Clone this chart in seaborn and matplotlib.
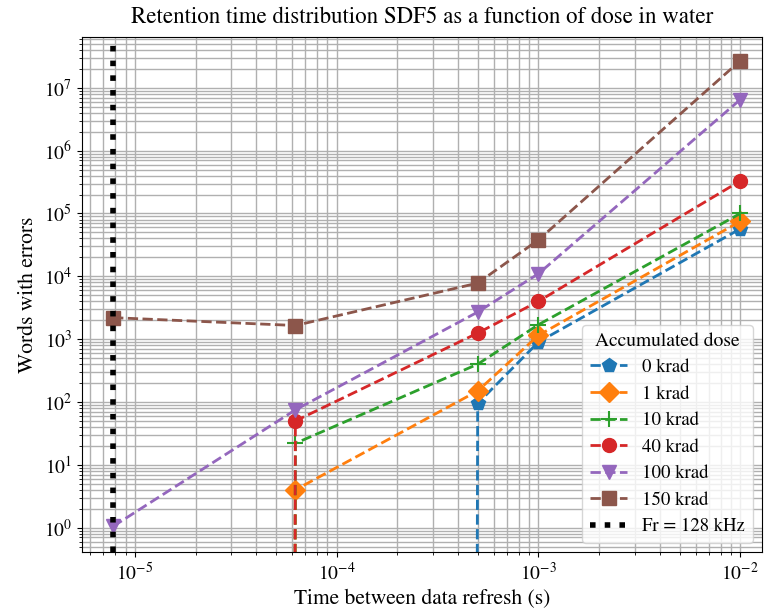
import numpy as np
import pandas as pd
import matplotlib
matplotlib.use("Agg")
import matplotlib.pyplot as plt
import seaborn as sns

# Refresh periods (s): 128 kHz, 16 kHz, 2 kHz, 1 kHz, 100 Hz
refresh_time = [1 / 128000, 1 / 16000, 5e-4, 1e-3, 1e-2]

# Words with errors for each accumulated dose (0 = no errors)
errors_0krad = [0, 0, 95, 900, 57000]
errors_1krad = [0, 4, 150, 1150, 75000]
errors_10krad = [0, 22, 400, 1700, 100000]
errors_40krad = [0, 50, 1250, 4000, 330000]
errors_100krad = [1.05, 75, 2700, 11000, 6.5e6]
errors_150krad = [2200, 1650, 7800, 38000, 2.7e7]

dose_labels = ["0 krad", "1 krad", "10 krad", "40 krad", "100 krad", "150 krad"]
series = [errors_0krad, errors_1krad, errors_10krad,
          errors_40krad, errors_100krad, errors_150krad]
markers = ["p", "D", "+", "o", "v", "s"]
colors = sns.color_palette("tab10", 6)

plt.rcParams["font.family"] = ["STIXGeneral", "DejaVu Serif"]
plt.rcParams["mathtext.fontset"] = "stix"

fig, ax = plt.subplots(figsize=(7.65, 6.12), dpi=100)
fig.subplots_adjust(left=0.107, right=0.996, bottom=0.098, top=0.94)

for label, vals, mk, col in zip(dose_labels, series, markers, colors):
    df = pd.DataFrame({"time": refresh_time, "errors": vals})
    sns.lineplot(data=df, x="time", y="errors", ax=ax, label=label,
                 color=col, marker=mk, linestyle="--", linewidth=2,
                 markersize=10 if mk != "+" else 11,
                 markeredgecolor=col, markeredgewidth=1.5 if mk == "+" else 1,
                 estimator=None, sort=False)

ax.axvline(1 / 128000, color="black", linestyle=":", linewidth=4, label="Fr = 128 kHz")

ax.set_xscale("log")
ax.set_yscale("log")
ax.set_xlim(5.47e-6, 1.28e-2)
ax.set_ylim(0.41, 6.5e7)
ax.grid(True, which="both", color="#b0b0b0", linewidth=1)
ax.set_axisbelow(True)

ax.set_title("Retention time distribution SDF5 as a function of dose in water",
             fontsize=16.5, pad=10)
ax.set_xlabel("Time between data refresh (s)", fontsize=15.5)
ax.set_ylabel("Words with errors", fontsize=15.5)
ax.tick_params(labelsize=14)

ax.legend(title="Accumulated dose", loc="lower right", fontsize=13.5, title_fontsize=14)

fig.savefig("out.png", dpi=100)
